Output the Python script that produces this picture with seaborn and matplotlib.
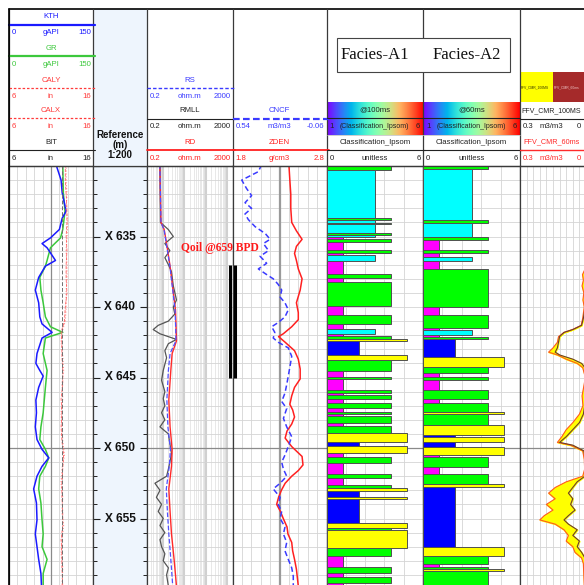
import matplotlib
matplotlib.use("Agg")
import matplotlib.pyplot as plt
from matplotlib import font_manager
from matplotlib.patches import Rectangle
import numpy as np
import seaborn as sns

DEPTH_TOP = 630.0
label_depths = [635, 640, 645, 650, 655]
perf_top, perf_bottom = 637.0, 645.0
qoil_text = "Qoil @659 BPD"

kth_depth = [629.9, 631.0, 631.9, 633.2, 633.7, 634.5, 635.1, 635.5, 635.8, 636.7, 637.1,
             637.9, 638.8, 639.7, 640.7, 641.2, 641.8, 642.2, 643.3, 644.0, 644.5, 644.9,
             645.7, 646.6, 647.5, 648.5, 649.4, 650.1, 650.7, 651.3, 652.0, 652.9, 653.9,
             655.1, 656.1, 657.0, 657.9, 658.9, 659.8]
kth = [84, 93, 95, 102, 95, 90, 74, 59, 68, 83, 65, 53, 47, 53, 55, 59, 77, 59, 50, 48,
       55, 61, 53, 48, 49, 47, 50, 59, 71, 59, 50, 44, 49, 50, 47, 50, 53, 57, 58]

gr_depth = [629.9, 631.9, 633.2, 634.5, 635.1, 635.8, 636.7, 637.1, 637.9, 638.8, 639.7,
            640.7, 641.4, 641.8, 642.2, 643.3, 644.5, 645.7, 646.6, 647.5, 648.5, 649.4,
            650.1, 650.7, 651.3, 652.0, 652.9, 653.9, 655.1, 656.1, 657.0, 657.9, 658.9, 659.8]
gr = [96, 97, 100, 96, 92, 74, 68, 65, 55, 57, 61, 65, 74, 96, 65, 61, 68, 65, 63, 61,
      57, 55, 65, 71, 65, 55, 53, 57, 59, 61, 59, 68, 61, 61]

cal_depth = [629.9, 631, 632, 633, 634, 635, 636, 637, 638, 639, 640, 641, 641.8, 642.5,
             643.5, 644.5, 645.5, 646.5, 647.5, 648.5, 649.5, 650.5, 651.5, 652.5, 653.5,
             654.5, 655.5, 656.5, 657.5, 658.5, 659.8]
caly = [12.8, 12.8, 12.9, 12.8, 13.0, 12.9, 12.8, 12.9, 12.9, 12.8, 12.8, 12.7, 12.3, 12.2,
        12.4, 12.5, 12.3, 12.4, 12.2, 12.3, 12.4, 12.6, 12.3, 12.2, 12.4, 12.3, 12.5, 12.3,
        12.2, 12.4, 12.3]
calx = [12.7, 12.7, 12.8, 12.9, 12.9, 12.8, 12.9, 12.8, 12.8, 12.9, 12.7, 12.6, 12.2, 12.3,
        12.3, 12.4, 12.4, 12.2, 12.3, 12.2, 12.3, 12.5, 12.4, 12.3, 12.3, 12.4, 12.4, 12.2,
        12.3, 12.3, 12.4]
bit_depth = [629.9, 659.8]
bit = [12.25, 12.25]

res_depth = [629.9, 634.0, 634.5, 635.5, 637.1, 638.8, 640.2, 641.5, 642.4, 643.3, 644.5,
             646.6, 648.5, 650.1, 651.3, 652.9, 654.5, 656.1, 657.9, 659.8]
rd = [0.8, 0.9, 1.27, 1.65, 2.4, 3.3, 4.3, 4.6, 4.8, 3.0, 2.6, 2.1, 2.4, 3.0, 2.8, 2.1,
      2.4, 2.8, 3.7, 4.8]
rs = [0.8, 0.9, 1.25, 1.6, 2.35, 3.2, 4.1, 4.4, 4.5, 2.4, 2.0, 1.7, 1.9, 2.5, 2.2, 1.6,
      1.8, 2.1, 2.6, 3.2]

rmll_depth = [629.9, 634.0, 634.5, 635.0, 635.5, 636.0, 636.5, 637.0, 637.5, 638.5, 639.5,
              640.0, 640.5, 641.0, 641.3, 641.6, 641.9, 642.3, 642.6, 643.1, 643.6, 644.5,
              645.2, 646.0, 646.5, 647.0, 647.5, 648.0, 648.5, 649.0, 649.7, 650.4, 651.0,
              651.5, 652.0, 652.5, 653.0, 653.5, 654.0, 654.5, 655.0, 655.5, 656.0, 656.5,
              657.0, 657.5, 658.0, 658.5, 659.0, 659.8]
rmll = [0.81, 0.85, 1.97, 3.4, 1.37, 2.35, 1.37, 2.0, 2.8, 3.4, 4.8, 3.4, 4.0, 2.0, 0.67,
        0.39, 0.81, 4.8, 2.0, 1.37, 1.65, 1.15, 0.96, 1.37, 1.15, 1.37, 0.96, 1.37, 0.81,
        2.0, 2.35, 2.8, 2.35, 2.0, 1.65, 0.47, 0.81, 0.55, 0.96, 0.67, 1.15, 0.81, 1.37,
        0.81, 0.96, 1.37, 1.15, 2.0, 1.65, 2.0]

nd_depth = [629.9, 630.4, 631.0, 631.6, 632.1, 632.6, 633.0, 633.4, 633.8, 634.3, 634.8,
            635.2, 635.5, 636.0, 636.4, 636.9, 637.3, 637.7, 638.0, 638.4, 638.8, 639.3,
            639.7, 640.2, 640.7, 641.1, 641.4, 641.8, 642.2, 642.5, 642.9, 643.5, 644.2,
            644.9, 645.5, 646.1, 646.7, 647.2, 647.9, 648.5, 649.2, 649.9, 650.5, 651.0,
            651.5, 652.0, 652.5, 652.9, 653.5, 654.0, 654.5, 655.0, 655.6, 656.1, 656.7,
            657.3, 657.9, 658.5, 659.1, 659.8]
cncf = [0.354, 0.375, 0.481, 0.45, 0.418, 0.46, 0.418, 0.46, 0.439, 0.396, 0.33, 0.30,
        0.343, 0.31, 0.364, 0.322, 0.375, 0.322, 0.28, 0.248, 0.226, 0.236, 0.205, 0.184,
        0.205, 0.248, 0.29, 0.27, 0.28, 0.248, 0.184, 0.162, 0.173, 0.184, 0.194, 0.205,
        0.226, 0.194, 0.215, 0.194, 0.162, 0.184, 0.205, 0.226, 0.215, 0.194, 0.236, 0.28,
        0.236, 0.248, 0.226, 0.236, 0.205, 0.215, 0.194, 0.205, 0.184, 0.162, 0.152, 0.152]

zden_depth = [629.9, 631.0, 632.0, 633.0, 634.0, 634.6, 635.2, 635.7, 636.2, 636.7, 637.3,
              638.0, 638.8, 639.7, 640.4, 640.9, 641.4, 641.9, 642.1, 642.5, 643.1, 643.7,
              644.4, 645.1, 645.7, 646.3, 646.9, 647.3, 647.8, 648.3, 648.8, 649.3, 649.9,
              650.6, 651.2, 651.6, 652.0, 652.5, 653.0, 653.5, 654.0, 654.5, 655.0, 655.6,
              656.1, 656.7, 657.3, 657.9, 658.6, 659.8]
zden = [2.40, 2.41, 2.42, 2.42, 2.43, 2.48, 2.54, 2.48, 2.46, 2.48, 2.50, 2.54, 2.52, 2.48,
        2.50, 2.50, 2.43, 2.34, 2.29, 2.36, 2.46, 2.50, 2.52, 2.52, 2.46, 2.43, 2.41, 2.44,
        2.46, 2.43, 2.38, 2.36, 2.43, 2.54, 2.55, 2.50, 2.43, 2.36, 2.32, 2.29, 2.27, 2.31,
        2.34, 2.38, 2.39, 2.43, 2.44, 2.46, 2.48, 2.50]

# facies: interval tops (last entry = bottom of last interval) and class codes
facies_a1_top = [629.9, 630.28, 633.71, 633.83, 634.02, 634.11, 634.77, 634.89, 635.06,
                 635.20, 635.37, 635.96, 636.15, 636.31, 636.74, 637.66, 637.97, 638.25,
                 639.93, 640.57, 641.20, 641.58, 641.91, 642.06, 642.29, 642.39, 643.40,
                 643.76, 644.52, 644.94, 645.08, 645.89, 646.08, 646.22, 646.55, 646.83,
                 647.19, 647.42, 647.59, 647.73, 648.25, 648.42, 648.91, 649.55, 649.86,
                 650.38, 650.61, 651.09, 651.84, 652.15, 652.62, 652.81, 653.05, 653.50,
                 653.64, 655.34, 655.70, 655.82, 657.12, 657.66, 658.42, 658.89, 659.13,
                 659.60, 659.8]
facies_a1_code = [4, 3, 4, 3, 4, 3, 4, 3, 1, 4, 1, 4, 1, 3, 1, 4, 1, 4, 1, 4, 1, 3, 1, 4,
                  5, 2, 5, 4, 1, 4, 1, 4, 1, 4, 1, 4, 1, 4, 1, 4, 1, 4, 5, 2, 5, 1, 4, 1,
                  4, 1, 4, 5, 2, 5, 2, 5, 4, 5, 4, 1, 4, 1, 4, 1]
facies_a2_top = [629.9, 630.24, 633.83, 634.02, 635.06, 635.25, 635.96, 636.15, 636.43,
                 636.74, 637.33, 639.98, 640.57, 641.47, 641.63, 641.99, 642.10, 642.29,
                 643.57, 644.23, 644.70, 644.94, 645.18, 645.89, 646.55, 646.83, 647.42,
                 647.59, 648.37, 649.08, 649.24, 649.55, 649.95, 650.50, 650.61, 651.37,
                 651.84, 652.55, 652.74, 657.05, 657.66, 658.23, 658.42, 658.61, 658.70,
                 659.8]
facies_a2_code = [4, 3, 4, 3, 4, 1, 4, 1, 3, 1, 4, 1, 4, 1, 3, 1, 4, 2, 5, 4, 1, 4, 1, 4,
                  1, 4, 5, 4, 5, 2, 5, 2, 5, 1, 4, 1, 4, 5, 2, 5, 4, 1, 4, 5, 4]
facies_colors = {1: "#ff00ff", 2: "#0000ff", 3: "#00ffff", 4: "#00ff00", 5: "#ffff00"}

ffv_depth = [629.9, 637.3, 637.7, 638.1, 638.5, 639.0, 639.5, 640.0, 640.8, 641.3, 641.6,
             641.8, 642.1, 642.5, 642.9, 643.2, 643.4, 643.7, 644.0, 644.3, 645.0, 645.8,
             646.3, 647.0, 647.6, 648.2, 648.7, 649.2, 649.6, 649.8, 650.2, 650.8, 651.5,
             652.0, 652.4, 652.8, 653.2, 653.6, 654.0, 654.4, 654.8, 655.1, 655.4, 655.8,
             656.2, 656.6, 657.0, 657.4, 657.8, 658.2, 659.0, 659.8]
ffv_100 = [0.0, 0.0, 0.003, 0.004, 0.002, 0.003, 0.002, 0.003, 0.012, 0.02, 0.06, 0.10,
           0.12, 0.125, 0.13, 0.14, 0.12, 0.06, 0.02, 0.005, 0.0, 0.002, 0.004, 0.006,
           0.012, 0.03, 0.06, 0.09, 0.12, 0.06, 0.01, 0.003, 0.0, 0.005, 0.04, 0.06, 0.08,
           0.06, 0.07, 0.05, 0.08, 0.10, 0.08, 0.04, 0.06, 0.03, 0.04, 0.02, 0.005, 0.002,
           0.003, 0.002]
ffv_60 = [0.0, 0.004, 0.016, 0.012, 0.018, 0.01, 0.014, 0.008, 0.015, 0.022, 0.062, 0.10,
          0.125, 0.13, 0.15, 0.17, 0.13, 0.09, 0.04, 0.015, 0.003, 0.012, 0.018, 0.014,
          0.03, 0.06, 0.09, 0.11, 0.13, 0.07, 0.015, 0.008, 0.006, 0.015, 0.09, 0.14, 0.17,
          0.14, 0.18, 0.15, 0.19, 0.21, 0.14, 0.10, 0.08, 0.09, 0.06, 0.05, 0.02, 0.012,
          0.01, 0.008]

# ---------------- layout ----------------
W, H = 584, 585
HDR_TOP, BODY_TOP = 9, 166
PX_PER_M = 14.1
DEPTH_BOT = DEPTH_TOP + (H - BODY_TOP) / PX_PER_M
edges = [9, 93, 147, 232.5, 326.5, 423, 520, 586]
REF_BG = "#eef5fd"
GRID = "#d4d4d4"
DARK_GRID = "#8a8a8a"
BORDER = "#3a3a3a"

sns.set_theme(style="white")
plt.rcParams["font.family"] = ["DejaVu Sans"]
names = {f.name for f in font_manager.fontManager.ttflist}
NARROW = "Liberation Sans Narrow" if "Liberation Sans Narrow" in names else "Liberation Sans"
SERIF = "Liberation Serif"

fig = plt.figure(figsize=(W / 100, H / 100), dpi=100)
fig.patch.set_facecolor("white")


def track_axes(i):
    x0, x1 = edges[i], edges[i + 1]
    ax = fig.add_axes([x0 / W, 0, (x1 - x0) / W, (H - BODY_TOP) / H])
    ax.set_ylim(DEPTH_BOT, DEPTH_TOP)
    for side in ["left", "right", "top"]:
        ax.spines[side].set_visible(True)
        ax.spines[side].set_color(BORDER)
        ax.spines[side].set_linewidth(0.9)
    ax.spines["bottom"].set_visible(False)
    return ax


def depth_grid(ax):
    ax.set_yticks(np.arange(631, 660, 1.0))
    ax.grid(axis="y", color=GRID, lw=0.6)
    ax.axhline(650, color=DARK_GRID, lw=0.9, zorder=1)
    ax.tick_params(length=0, which="both", labelleft=False, labelbottom=False)


def twin(ax):
    tw = ax.twiny()
    tw.patch.set_visible(False)
    for s in tw.spines.values():
        s.set_visible(False)
    tw.tick_params(length=0, which="both", labeltop=False, labelbottom=False)
    return tw


def curve(ax, x, y, color, lw=1.0, ls="-"):
    sns.lineplot(x=x, y=y, ax=ax, orient="y", sort=False, estimator=None,
                 color=color, linewidth=lw, linestyle=ls, legend=False)
    ax.set_xlabel("")
    ax.set_ylabel("")


# track 1: KTH / GR / calipers
t1 = track_axes(0)
t1.set_xlim(0, 150)
t1.set_xticks(np.linspace(0, 150, 11))
t1.grid(axis="x", color=GRID, lw=0.6)
t1.axvline(75, color=DARK_GRID, lw=0.9, zorder=1)
depth_grid(t1)
t1c = twin(t1)
curve(t1c, caly, cal_depth, "#ff8a8a", 0.8, ":")
curve(t1c, calx, cal_depth, "#ff6060", 0.6, "--")
curve(t1c, bit, bit_depth, "#707070", 0.7, (0, (4, 2)))
t1c.set_xlim(6, 16)
curve(t1, gr, gr_depth, "#3cc83c", 1.1)
curve(t1, kth, kth_depth, "#1a1aff", 1.1)
t1.set_xlim(0, 150)
t1.set_ylim(DEPTH_BOT, DEPTH_TOP)

# track 2: depth reference
t2 = track_axes(1)
t2.set_facecolor(REF_BG)
t2.set_xlim(0, 1)
t2.set_yticks(np.arange(630, 660, 5.0))
t2.set_yticks(np.arange(630, 660, 1.0), minor=True)
t2.tick_params(axis="y", which="major", direction="in", left=True, right=True,
               length=5, width=0.8, color="#222222", labelleft=False)
t2.tick_params(axis="y", which="minor", direction="in", left=True, right=True,
               length=3, width=0.7, color="#222222")
t2.tick_params(axis="x", length=0, labelbottom=False)
for d in label_depths:
    t2.text(0.5, d, f"X {d}", transform=t2.get_yaxis_transform(), ha="center",
            va="center", fontsize=8.6, fontweight="bold", family=NARROW, color="#111111")
t2.set_ylim(DEPTH_BOT, DEPTH_TOP)

# track 3: resistivity (log)
t3 = track_axes(2)
t3.set_xscale("log")
t3.set_xlim(0.2, 2000)
t3.set_xticks([1, 10, 100, 1000])
t3.set_xticks([0.3, 0.4, 0.5, 0.6, 0.7, 0.8, 0.9] +
              [m * 10 ** k for k in range(0, 3) for m in range(2, 10)], minor=True)
t3.grid(axis="x", which="major", color="#d0d0d0", lw=2.2)
t3.grid(axis="x", which="minor", color="#e4e4e4", lw=0.6)
depth_grid(t3)
curve(t3, rmll, rmll_depth, "#555555", 0.9)
curve(t3, rd, res_depth, "#ff2a2a", 1.0)
curve(t3, rs, res_depth, "#5050ff", 0.9, "--")
t3.set_xlim(0.2, 2000)
t3.set_ylim(DEPTH_BOT, DEPTH_TOP)
t3.vlines(0.965, perf_top, perf_bottom, transform=t3.get_yaxis_transform(),
          color="black", lw=2.2, clip_on=False, zorder=5)

# track 4: density / neutron
t4 = track_axes(3)
t4.set_xlim(1.8, 2.8)
t4.set_xticks(np.linspace(1.8, 2.8, 11))
t4.grid(axis="x", color=GRID, lw=0.6)
t4.axvline(2.3, color="#9a9a9a", lw=1.6, zorder=1)
depth_grid(t4)
curve(t4, zden, zden_depth, "#ff2020", 1.1)
t4.set_xlim(1.8, 2.8)
t4.vlines(0.027, perf_top, perf_bottom, transform=t4.get_yaxis_transform(),
          color="black", lw=2.2, clip_on=False, zorder=5)
t4n = twin(t4)
curve(t4n, cncf, nd_depth, "#3a3aff", 1.1, (0, (3.5, 2)))
t4n.set_xlim(0.54, -0.06)
t4.set_ylim(DEPTH_BOT, DEPTH_TOP)

# tracks 5 / 6: facies
for i, (tops, codes) in zip([4, 5], [(facies_a1_top, facies_a1_code),
                                     (facies_a2_top, facies_a2_code)]):
    ax = track_axes(i)
    ax.set_xlim(0, 6)
    ax.set_xticks(np.linspace(0, 6, 6))
    ax.grid(axis="x", color=GRID, lw=0.6)
    depth_grid(ax)
    tops = np.array(tops)
    centers = (tops[:-1] + tops[1:]) / 2
    heights = np.diff(tops)
    ax.barh(centers, codes, height=heights, left=0,
            color=[facies_colors[c] for c in codes], edgecolor="#505050",
            linewidth=0.7, zorder=3)
    ax.set_xlim(0, 6)
    ax.set_ylim(DEPTH_BOT, DEPTH_TOP)

# track 7: free fluid volume
t7 = track_axes(6)
t7.set_xlim(0.3, 0)
t7.set_xticks(np.linspace(0, 0.3, 11))
t7.grid(axis="x", color=GRID, lw=0.6)
depth_grid(t7)
t7.fill_betweenx(ffv_depth, ffv_60, ffv_100, color="#ffff00", zorder=2)
curve(t7, ffv_60, ffv_depth, "#ff5a1e", 0.8)
curve(t7, ffv_100, ffv_depth, "#6b3a30", 0.8)
t7.set_xlim(0.3, 0)
t7.set_ylim(DEPTH_BOT, DEPTH_TOP)

# ---------------- header ----------------
hax = fig.add_axes([0, 0, 1, 1])
hax.set_xlim(0, W)
hax.set_ylim(H, 0)
hax.axis("off")

hax.add_patch(Rectangle((edges[1], HDR_TOP), edges[2] - edges[1], BODY_TOP - HDR_TOP,
                        facecolor=REF_BG, edgecolor="none"))
hax.plot([edges[0], W], [HDR_TOP, HDR_TOP], color="black", lw=1.2)
hax.plot([edges[0], W], [BODY_TOP, BODY_TOP], color=BORDER, lw=0.9)
for x in edges[:-1]:
    hax.plot([x, x], [HDR_TOP, BODY_TOP], color=BORDER, lw=0.9)

FS = 5.6


def htext(x, y, s, color, ha="center", **kw):
    hax.text(x, y, s, color=color, ha=ha, va="center", fontsize=kw.pop("fontsize", FS),
             family=kw.pop("family", NARROW), **kw)


def header_row(i, y, name, color, ls, lw, left, unit, right, name_fs=FS):
    x0, x1 = edges[i], min(edges[i + 1], W - 1)
    if name:
        htext((x0 + x1) / 2, y - 8, name, color, fontsize=name_fs)
    hax.plot([x0, x1 + 2], [y, y], color=color, ls=ls, lw=lw)
    htext(x0 + 3, y + 8, left, color, ha="left")
    htext((x0 + x1) / 2, y + 8, unit, color)
    htext(x1 - 2, y + 8, right, color, ha="right")


header_row(0, 25, "KTH", "#1a1aff", "-", 1.6, "0", "gAPI", "150")
header_row(0, 56, "GR", "#3cc83c", "-", 1.6, "0", "gAPI", "150")
header_row(0, 88, "CALY", "#ff3a3a", (0, (2, 1.5)), 0.9, "6", "in", "16")
header_row(0, 118, "CALX", "#ff3a3a", (0, (2, 1.5)), 0.9, "6", "in", "16")
header_row(0, 150, "BIT", "#222222", "-", 0.8, "6", "in", "16")

header_row(2, 88, "RS", "#3a3aff", (0, (2.5, 1.5)), 1.0, "0.2", "ohm.m", "2000")
header_row(2, 119, "RMLL", "#222222", "-", 0.8, "0.2", "ohm.m", "2000")
header_row(2, 150, "RD", "#ff2020", "-", 1.3, "0.2", "ohm.m", "2000")
header_row(3, 119, "CNCF", "#3a3aff", (0, (3, 1.5)), 1.6, "0.54", "m3/m3", "-0.06")
header_row(3, 150, "ZDEN", "#ff2020", "-", 1.3, "1.8", "g/cm3", "2.8")

for i, tag in zip([4, 5], ["@100ms", "@60ms"]):
    x0, x1 = edges[i], edges[i + 1]
    grad = np.linspace(0, 1, 256)[None, :]
    hax.imshow(grad, extent=[x0, x1, 135, 102], cmap="rainbow", aspect="auto", zorder=1)
    htext((x0 + x1) / 2, 110, tag, "#222222")
    hax.plot([x0, x1], [118, 118], color="#222222", lw=0.8)
    htext(x0 + 3, 127, "1", "#222222", ha="left")
    htext((x0 + x1) / 2, 127, "(Classification_Ipsom)", "#222222", fontsize=5.0)
    htext(x1 - 3, 127, "6", "#222222", ha="right")
    hax.plot([x0, x1], [135, 135], color="#bbbbbb", lw=0.5)
    header_row(i, 150, "Classification_Ipsom", "#222222", "-", 0.8, "0", "unitless", "6")

# facies title box
hax.add_patch(Rectangle((337, 38), 173, 34, facecolor="white", edgecolor="#444444",
                        lw=0.8, zorder=4))
hax.text(375, 55, "Facies-A1", ha="center", va="center", fontsize=12, family=SERIF,
         color="#111111", zorder=5)
hax.text(467, 55, "Facies-A2", ha="center", va="center", fontsize=12, family=SERIF,
         color="#111111", zorder=5)

# FFV header
x0 = edges[6]
hax.add_patch(Rectangle((x0, 72), 553 - x0, 30, facecolor="#ffff00", edgecolor="none"))
hax.add_patch(Rectangle((553, 72), W + 2 - 553, 30, facecolor="#a52a2a", edgecolor="none"))
htext(x0 + 1, 87, "FFV_CMR_100MS", "#333300", ha="left", fontsize=2.4)
htext(554, 87, "FFV_CMR_60ms", "#f0c8c8", ha="left", fontsize=2.4)
header_row(6, 119, "FFV_CMR_100MS", "#222222", "-", 0.8, "0.3", "m3/m3", "0", name_fs=5.0)
header_row(6, 150, "FFV_CMR_60ms", "#ff2a2a", "-", 1.0, "0.3", "m3/m3", "0", name_fs=5.2)

# reference track title
hax.text((edges[1] + edges[2]) / 2, 145, "Reference\n(m)\n1:200", ha="center",
         va="center", fontsize=7.0, fontweight="bold", family=NARROW, color="#111111",
         linespacing=1.05)

# annotation
hax.text(181, 248, qoil_text, ha="left", va="center", fontsize=8.3, fontweight="bold",
         family=SERIF, color="#ff1a1a")

# outer left border
hax.plot([edges[0], edges[0]], [HDR_TOP, H], color="black", lw=1.2)

fig.savefig("out.png", dpi=100)
